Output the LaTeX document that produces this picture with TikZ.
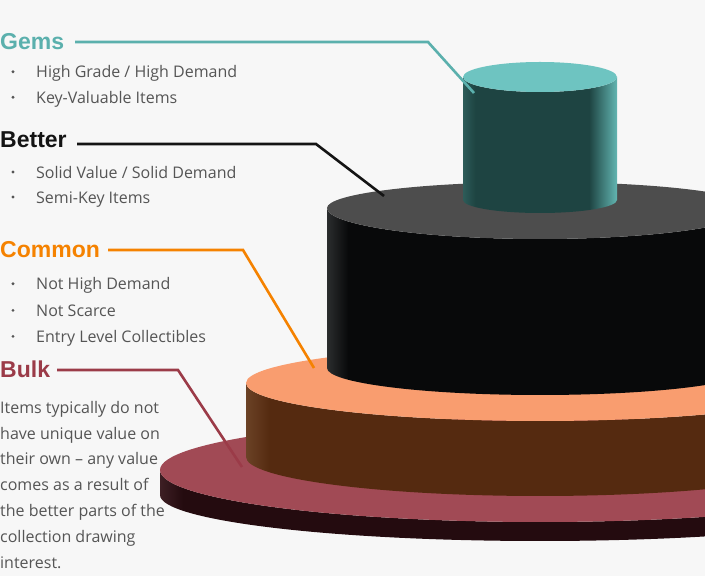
\documentclass[tikz,border=0pt]{standalone}
\usepackage{fontspec}
\setmainfont{Open Sans}
\newfontfamily\headfont{Liberation Sans}[BoldFont={Liberation Sans Bold}]
\usetikzlibrary{calc}
\definecolor{bg}{HTML}{F7F7F7}
\definecolor{bodygray}{HTML}{555555}
\definecolor{gemsc}{HTML}{5BB0AD}
\definecolor{betterc}{HTML}{141414}
\definecolor{commonc}{HTML}{F58200}
\definecolor{bulkc}{HTML}{9B3B48}
\definecolor{gemstop}{HTML}{6EC4C1}
\definecolor{gA}{HTML}{2D5C59}
\definecolor{gB}{HTML}{1E4442}
\definecolor{gC}{HTML}{62B5B1}
\definecolor{blacktop}{HTML}{4D4D4D}
\definecolor{kA}{HTML}{2B2D2E}
\definecolor{kB}{HTML}{08090A}
\definecolor{orangetop}{HTML}{F99D6F}
\definecolor{oA}{HTML}{6B4226}
\definecolor{oB}{HTML}{552A10}
\definecolor{maroontop}{HTML}{A14A55}
\definecolor{mA}{HTML}{3D1F24}
\definecolor{mB}{HTML}{240B0F}
\pgfdeclarehorizontalshading{gemsside}{100bp}{color(0bp)=(gA); color(25bp)=(gA); color(29bp)=(gB); color(66bp)=(gB); color(75bp)=(gC); color(100bp)=(gC)}
\pgfdeclarehorizontalshading{blackside}{100bp}{color(0bp)=(kA); color(25bp)=(kA); color(27.5bp)=(kB); color(100bp)=(kB)}
\pgfdeclarehorizontalshading{orangeside}{100bp}{color(0bp)=(oA); color(25bp)=(oA); color(27bp)=(oB); color(100bp)=(oB)}
\pgfdeclarehorizontalshading{maroonside}{100bp}{color(0bp)=(mA); color(25bp)=(mA); color(26.5bp)=(mB); color(100bp)=(mB)}
% #1 cx, #2 rx, #3 top Y, #4 top back ry, #5 top front ry, #6 bottom Y, #7 bottom ry, #8 shading, #9 top colour
\newcommand\mycyl[9]{%
  \shade[shading=#8] ({#1-#2},#3) -- ({#1-#2},#6)
    arc[start angle=180, end angle=360, x radius=#2, y radius=#7]
    -- ({#1+#2},#3)
    arc[start angle=0, end angle=-180, x radius=#2, y radius=#5] -- cycle;
  \fill[#9] ({#1-#2},#3)
    arc[start angle=180, end angle=0, x radius=#2, y radius=#4]
    arc[start angle=0, end angle=-180, x radius=#2, y radius=#5] -- cycle;
}
\newcommand\mybullet[3]{%
  \fill[bulletdot] (13,#1+6.3) circle[radius=1.6];
  \node[bodytext] (#2) at (36,#1) {#3};
}
\tikzset{
  head/.style={font=\headfont\bfseries\fontsize{23}{23}\selectfont, anchor=base west, inner sep=0pt},
  bodytext/.style={font=\fontsize{16}{20}\selectfont, text=bodygray, anchor=base west, inner sep=0pt},
  leader/.style={line width=2.6pt, line cap=butt, line join=miter},
  bulletdot/.style={fill=bodygray}
}
\begin{document}
\begin{tikzpicture}[x=1pt,y=1pt]
\useasboundingbox (0,0) rectangle (705,576);
\fill[bg] (0,0) rectangle (705,576);
\clip (0,0) rectangle (705,576);
% cylinders, bottom to top
\mycyl{540}{380}{106}{52}{52}{81}{46}{maroonside}{maroontop}
\mycyl{540}{294}{193}{37}{38}{119}{39}{orangeside}{orangetop}
\mycyl{540}{213}{368}{26}{31}{208}{27}{blackside}{blacktop}
\mycyl{540}{77}{499}{15}{15}{376}{13}{gemsside}{gemstop}
% headings
\node[head, text=gemsc] (gems) at (0,526) {Gems};
\node[head, text=betterc] (better) at (0,428) {Better};
\node[head, text=commonc] (common) at (0,318) {Common};
\node[head, text=bulkc] (bulk) at (0,198) {Bulk};
% leader coordinates
\coordinate (g0) at (75,534);  \coordinate (g1) at (428,534); \coordinate (g2) at (474,483);
\coordinate (b0) at (77,432);  \coordinate (b1) at (316,432); \coordinate (b2) at (384,380);
\coordinate (c0) at (108,326); \coordinate (c1) at (243,326); \coordinate (c2) at (314,208);
\coordinate (k0) at (57,206);  \coordinate (k1) at (178,206); \coordinate (k2) at (242,109);
\draw[leader, gemsc] (g0) -- (g1) -- (g2);
\draw[leader, betterc] (b0) -- (b1) -- (b2);
\draw[leader, commonc] (c0) -- (c1) -- (c2);
\draw[leader, bulkc] (k0) -- (k1) -- (k2);
% bullet lists
\mybullet{498}{t1}{High Grade / High Demand}
\mybullet{472.5}{t2}{Key-Valuable Items}
\mybullet{397.7}{t3}{Solid Value / Solid Demand}
\mybullet{372.7}{t4}{Semi-Key Items}
\mybullet{286}{t5}{Not High Demand}
\mybullet{259.3}{t6}{Not Scarce}
\mybullet{233.3}{t7}{Entry Level Collectibles}
% bulk paragraph
\node[bodytext] (p1) at (0,162.7) {Items typically do not};
\node[bodytext] (p2) at (0,136) {have unique value on};
\node[bodytext] (p3) at (0,111) {their own – any value};
\node[bodytext] (p4) at (0,85) {comes as a result of};
\node[bodytext] (p5) at (0,59.3) {the better parts of the};
\node[bodytext] (p6) at (0,33.3) {collection drawing};
\node[bodytext] (p7) at (0,7.7) {interest.};
\end{tikzpicture}
\end{document}
